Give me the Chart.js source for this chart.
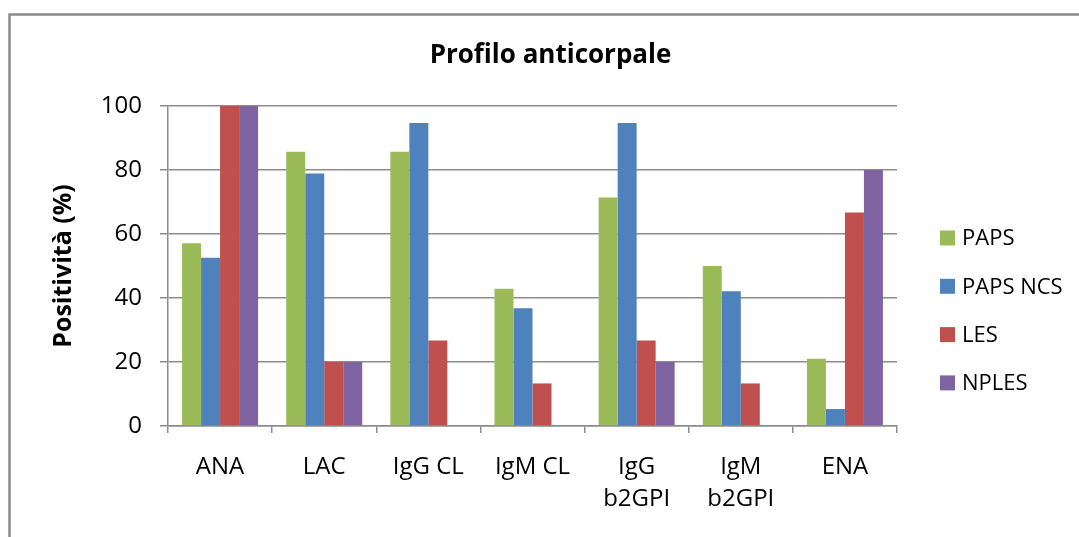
<!DOCTYPE html>
<html>
<head>
<meta charset="utf-8">
<script src="https://cdn.jsdelivr.net/npm/chart.js@4.4.1/dist/chart.umd.min.js"></script>
<style>
  html, body { margin: 0; padding: 0; background: #ffffff; }
  #wrap { width: 1079px; height: 537px; }
</style>
</head>
<body>
<div id="wrap"><canvas id="c" width="1079" height="537"></canvas></div>
<script>
// Antibody profile: percentage of positive patients per test and group
const categories = ['ANA', 'LAC', 'IgG CL', 'IgM CL', ['IgG', 'b2GPI'], ['IgM', 'b2GPI'], 'ENA'];
const seriesNames = ['PAPS', 'PAPS NCS', 'LES', 'NPLES'];
const paps    = [57.1, 85.7, 85.7, 42.9, 71.4, 50.0, 21.0];
const papsNcs = [52.6, 78.9, 94.7, 36.8, 94.7, 42.1, 5.3];
const les     = [100, 20.0, 26.7, 13.3, 26.7, 13.3, 66.7];
const nples   = [100, 20.0, 0, 0, 20.0, 0, 80.0];
const yTicks  = [0, 20, 40, 60, 80, 100];

const colors = ['#9BBB59', '#4F81BD', '#C0504D', '#8064A2'];
const FONT = "'Open Sans', 'Liberation Sans', sans-serif";
const GRID = '#8c8c8c';

// Outer frame around the chart
const framePlugin = {
  id: 'frame',
  beforeDraw(chart) {
    const ctx = chart.ctx;
    ctx.save();
    ctx.fillStyle = '#ffffff';
    ctx.fillRect(0, 0, chart.width, chart.height);
    ctx.strokeStyle = '#8a8a8a';
    ctx.lineWidth = 2.5;
    ctx.strokeRect(9.5, 14.5, chart.width + 50, chart.height + 50);
    ctx.restore();
  }
};

// Legend column to the right of the plot
const sideLegend = {
  id: 'sideLegend',
  afterDraw(chart) {
    const ctx = chart.ctx;
    const area = chart.chartArea;
    const x0 = area.right + 43;
    const y0 = area.top + 132;
    const step = 48.3;
    ctx.save();
    ctx.font = '22px ' + FONT;
    ctx.textBaseline = 'middle';
    ctx.textAlign = 'left';
    chart.data.datasets.forEach((ds, i) => {
      const y = y0 + i * step;
      ctx.fillStyle = ds.backgroundColor;
      ctx.fillRect(x0, y - 7.5, 15, 15);
      ctx.fillStyle = '#000000';
      ctx.fillText(ds.label, x0 + 22, y + 1);
    });
    ctx.restore();
  }
};

const seriesValues = [paps, papsNcs, les, nples];

new Chart(document.getElementById('c'), {
  type: 'bar',
  data: {
    labels: categories,
    datasets: seriesNames.map((name, i) => ({
      label: name,
      data: seriesValues[i],
      backgroundColor: colors[i],
      borderWidth: 0,
      categoryPercentage: 0.73,
      barPercentage: 1.0,
      yAxisID: 'y'
    }))
  },
  options: {
    responsive: false,
    animation: false,
    devicePixelRatio: 1,
    layout: { padding: { top: 0, left: 22, right: 0, bottom: 20 } },
    plugins: {
      legend: { display: false },
      tooltip: { enabled: false },
      title: {
        display: true,
        text: 'Profilo anticorpale',
        color: '#000000',
        font: { family: FONT, size: 26, weight: 'bold' },
        padding: { top: 40, bottom: 34.8 }
      }
    },
    scales: {
      x: {
        grid: {
          display: true,
          drawOnChartArea: false,
          drawTicks: true,
          tickLength: 7,
          color: GRID,
          lineWidth: 1.5
        },
        border: { display: true, color: GRID, width: 1.5 },
        ticks: {
          color: '#000000',
          font: { family: FONT, size: 24, lineHeight: 1.35 },
          padding: 18,
          maxRotation: 0,
          autoSkip: false
        },
        afterFit(scale) { scale.height = 91; }
      },
      y: {
        min: 0,
        max: 100,
        afterBuildTicks(scale) { scale.ticks = yTicks.map(v => ({ value: v })); },
        grid: {
          color: GRID,
          lineWidth: 1.5,
          tickLength: 8
        },
        border: { display: true, color: GRID, width: 1.5 },
        ticks: {
          color: '#000000',
          font: { family: FONT, size: 24 },
          padding: 18
        },
        title: {
          display: true,
          text: 'Positività (%)',
          color: '#000000',
          font: { family: FONT, size: 25, weight: 'bold' },
          padding: { top: 27, bottom: 0 }
        },
        afterFit(scale) { scale.width = 146; }
      },
      // empty right-hand axis that keeps room for the legend column
      legendSpace: {
        type: 'linear',
        position: 'right',
        display: true,
        grid: { display: false, drawTicks: false },
        border: { display: false },
        ticks: { display: false },
        afterFit(scale) { scale.width = 182; }
      }
    }
  },
  plugins: [framePlugin, sideLegend]
});
</script>
</body>
</html>
